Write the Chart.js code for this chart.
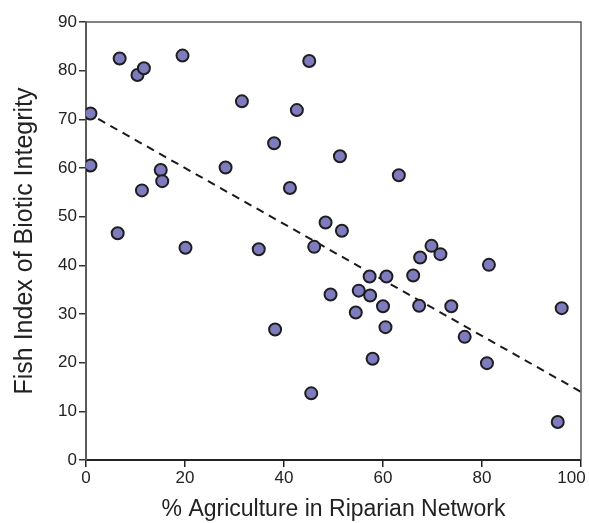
<!DOCTYPE html>
<html>
<head>
<meta charset="utf-8">
<script src="https://cdn.jsdelivr.net/npm/chart.js@4"></script>
<style>
  html, body { margin: 0; padding: 0; background: #fff; }
  #wrap { width: 589px; height: 523px; }
</style>
</head>
<body>
<div id="wrap"><canvas id="fishChart" width="589" height="523"></canvas></div>
<script>
// % agriculture in riparian network (x) and fish IBI (y)
const agriculture = [
    0.9, 0.9, 6.8, 6.4, 10.4, 11.7, 11.3, 15.1, 15.4, 19.5,
    20.1, 28.2, 31.5, 34.9, 38.0, 38.2, 41.2, 42.6, 45.1, 45.5,
    46.1, 48.4, 49.4, 51.3, 51.7, 54.5, 55.1, 57.3, 57.4, 57.9,
    60.0, 60.5, 60.7, 63.2, 66.1, 67.3, 67.5, 69.8, 71.6, 73.8,
    76.5, 81.0, 81.4, 95.3, 96.1
];
const fishIBI = [
    71.2, 60.5, 82.5, 46.6, 79.1, 80.5, 55.4, 59.6, 57.3, 83.1,
    43.6, 60.1, 73.7, 43.3, 65.1, 26.8, 55.9, 71.9, 82.0, 13.7,
    43.8, 48.8, 34.0, 62.4, 47.1, 30.3, 34.8, 37.7, 33.8, 20.8,
    31.6, 27.3, 37.7, 58.5, 37.9, 31.7, 41.6, 44.0, 42.3, 31.6,
    25.3, 19.9, 40.1, 7.8, 31.2
];
// fitted trend line end points
const trendX = [0, 100];
const trendY = [71.5, 14.0];

const xTicks = [0, 20, 40, 60, 80, 100];
const yTicks = [0, 10, 20, 30, 40, 50, 60, 70, 80, 90];

const points = agriculture.map((x, i) => ({ x: x, y: fishIBI[i] }));
const trend = trendX.map((x, i) => ({ x: x, y: trendY[i] }));

// box outline on top and right of the plot area
const framePlugin = {
    id: 'frame',
    afterDraw(chart) {
        const a = chart.chartArea;
        const ctx = chart.ctx;
        ctx.save();
        ctx.strokeStyle = '#5a5a5a';
        ctx.lineWidth = 1.5;
        ctx.beginPath();
        ctx.moveTo(a.left, a.top);
        ctx.lineTo(a.right, a.top);
        ctx.lineTo(a.right, a.bottom);
        ctx.stroke();
        ctx.restore();
    }
};

const ctx = document.getElementById('fishChart').getContext('2d');
new Chart(ctx, {
    type: 'scatter',
    data: {
        datasets: [{
            label: 'trend',
            type: 'line',
            data: trend,
            borderColor: '#1a1a1a',
            borderWidth: 2,
            borderDash: [8, 6],
            pointRadius: 0,
            fill: false,
            order: 2
        }, {
            label: 'sites',
            data: points,
            backgroundColor: '#7f7bbf',
            borderColor: '#1e1e1e',
            borderWidth: 2,
            pointRadius: 6,
            order: 1
        }]
    },
    options: {
        responsive: false,
        animation: false,
        layout: { padding: { top: 22, right: 2, left: 0, bottom: 0 } },
        plugins: {
            legend: { display: false },
            tooltip: { enabled: false }
        },
        scales: {
            x: {
                type: 'linear',
                min: 0,
                max: 100,
                afterBuildTicks: (axis) => { axis.ticks = xTicks.map(v => ({ value: v })); },
                afterFit: (axis) => {
                    axis.height = 63;
                    axis.paddingLeft = 0;
                    axis.paddingRight = 0;
                },
                grid: { drawOnChartArea: false, tickLength: 7, color: '#222', lineWidth: 1.5 },
                border: { color: '#222', width: 2 },
                ticks: {
                    color: '#222',
                    padding: 1,
                    maxRotation: 0,
                    // last label is nudged left so it stays inside the canvas
                    callback: (v) => v === 100 ? '100    ' : String(v),
                    font: { family: 'Liberation Sans', size: 17 }
                },
                title: {
                    display: true,
                    text: '% Agriculture in Riparian Network',
                    color: '#222',
                    padding: { top: 4, bottom: 0 },
                    font: { family: 'Liberation Sans', size: 23 }
                }
            },
            y: {
                type: 'linear',
                min: 0,
                max: 90,
                afterBuildTicks: (axis) => { axis.ticks = yTicks.map(v => ({ value: v })); },
                afterFit: (axis) => {
                    axis.width = 86;
                    axis.paddingTop = 0;
                    axis.paddingBottom = 0;
                },
                grid: { drawOnChartArea: false, tickLength: 7, color: '#333', lineWidth: 1.5 },
                border: { color: '#5a5a5a', width: 2 },
                ticks: {
                    color: '#222',
                    padding: 2,
                    font: { family: 'Liberation Sans', size: 17 }
                },
                title: {
                    display: true,
                    text: 'Fish Index of Biotic Integrity',
                    color: '#222',
                    padding: { top: 10, bottom: 0 },
                    font: { family: 'Liberation Sans', size: 25 }
                }
            }
        }
    },
    plugins: [framePlugin]
});
</script>
</body>
</html>
